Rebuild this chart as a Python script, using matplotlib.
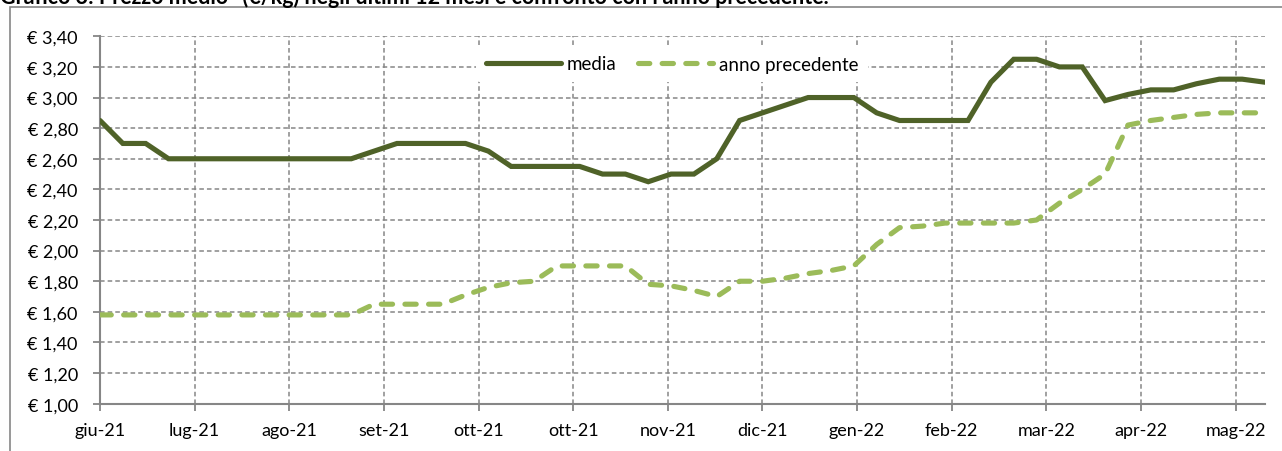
import numpy as np
import pandas as pd
import matplotlib
matplotlib.use("Agg")
from matplotlib import pyplot as plt
from matplotlib.patches import Rectangle
from matplotlib.ticker import FuncFormatter

plt.rcParams["font.family"] = ["Lato", "DejaVu Sans"]

# weekly prices, 52 weeks
weeks = pd.date_range("2021-06-07", periods=52, freq="7D")

media = [2.85, 2.70, 2.70, 2.60, 2.60, 2.60, 2.60, 2.60, 2.60, 2.60,
         2.60, 2.60, 2.65, 2.70, 2.70, 2.70, 2.70, 2.65, 2.55, 2.55,
         2.55, 2.55, 2.50, 2.50, 2.45, 2.50, 2.50, 2.60, 2.85, 2.90,
         2.95, 3.00, 3.00, 3.00, 2.90, 2.85, 2.85, 2.85, 2.85, 3.10,
         3.25, 3.25, 3.20, 3.20, 2.98, 3.02, 3.05, 3.05, 3.09, 3.12,
         3.12, 3.10]

anno_prec = [1.58, 1.58, 1.58, 1.58, 1.58, 1.58, 1.58, 1.58, 1.58, 1.58,
             1.58, 1.58, 1.65, 1.65, 1.65, 1.65, 1.71, 1.76, 1.79, 1.80,
             1.90, 1.90, 1.90, 1.90, 1.78, 1.77, 1.74, 1.70, 1.80, 1.80,
             1.82, 1.85, 1.87, 1.90, 2.04, 2.15, 2.16, 2.18, 2.18, 2.18,
             2.18, 2.20, 2.31, 2.40, 2.50, 2.82, 2.85, 2.87, 2.89, 2.90,
             2.90, 2.90]

tick_dates = pd.date_range("2021-06-07", periods=13, freq="29D")
tick_labels = ["giu-21", "lug-21", "ago-21", "set-21", "ott-21", "ott-21",
               "nov-21", "dic-21", "gen-22", "feb-22", "mar-22", "apr-22",
               "mag-22"]

grey = "#868686"

fig = plt.figure(figsize=(12.82, 4.52), dpi=100)
ax = fig.add_axes([100 / 1282, 1 - 404.7 / 452, 1165 / 1282, (404.7 - 37.3) / 452])

ax.plot(weeks, media, color="#4F6228", lw=3.7, solid_capstyle="round",
        solid_joinstyle="miter", label="media", zorder=4)
ax.plot(weeks, anno_prec, color="#9BBB59", lw=3.7, dashes=(2.2, 2.4),
        dash_capstyle="round", label="anno precedente", zorder=3)

ax.set_xlim(weeks[0], weeks[-1])
ax.set_ylim(1.0, 3.4)
ax.set_yticks(np.arange(1.0, 3.41, 0.2))
ax.yaxis.set_major_formatter(FuncFormatter(lambda v, p: "€ " + f"{v:.2f}".replace(".", ",")))
ax.set_xticks(tick_dates)
ax.set_xticklabels(tick_labels)

ax.grid(True, color=grey, lw=1.1, linestyle=(0, (3, 2)))
ax.set_axisbelow(True)
for s in ["top", "right"]:
    ax.spines[s].set_visible(False)
for s in ["left", "bottom"]:
    ax.spines[s].set_color(grey)
    ax.spines[s].set_linewidth(1.5)
ax.tick_params(axis="both", colors=grey, length=5, width=1.3, labelcolor="black",
               labelsize=13)
ax.tick_params(axis="x", pad=8)
ax.tick_params(axis="y", pad=11)

leg = ax.legend(loc="center", bbox_to_anchor=(672 / 1282, 1 - 65 / 452),
                bbox_transform=fig.transFigure, ncol=2, frameon=True,
                fontsize=13.5, handlelength=4.0, handletextpad=0.3,
                columnspacing=1.2, borderpad=0.5)
leg.get_frame().set_facecolor("white")
leg.get_frame().set_edgecolor("none")
leg.get_frame().set_alpha(1)

# outer chart frame
fig.patches.append(Rectangle((9.5 / 1282, -0.2), 1.0, 1.2 - 8 / 452, fill=False,
                             edgecolor=grey, lw=1.2, transform=fig.transFigure))

fig.text(0.0, 1 - 3.5 / 452, "Grafico 3: Prezzo medio* (€/kg) negli ultimi 12 mesi e confronto con l'anno precedente.",
         fontsize=15.5, fontweight="bold", va="baseline", ha="left")

fig.savefig("out.png", dpi=100)
